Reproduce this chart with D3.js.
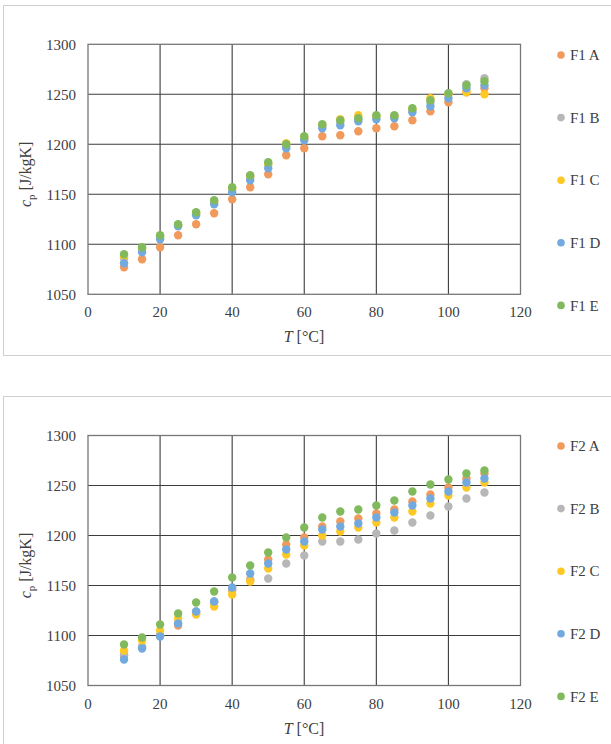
<!DOCTYPE html>
<html>
<head>
<meta charset="utf-8">
<script src="https://cdn.jsdelivr.net/npm/d3@7"></script>
<style>
  html, body { margin: 0; padding: 0; background: #fff; }
  svg { display: block; }
  text { font-family: "Liberation Serif", "Times New Roman", serif; fill: #404040; }
</style>
</head>
<body>
<script>
// Temperatures (°C) at which specific heat was measured
const temps = [10, 15, 20, 25, 30, 35, 40, 45, 50, 55, 60, 65, 70, 75, 80, 85, 90, 95, 100, 105, 110];

// Specific heat c_p [J/kgK], first group of samples
const f1A = [1077, 1085, 1097, 1109, 1120, 1131, 1145, 1157, 1170, 1189, 1196, 1208, 1209, 1213, 1216, 1218, 1224, 1233, 1242, 1252, 1256];
const f1B = [1086, 1095, 1107, 1119, 1131, 1142, 1155, 1167, 1180, 1198, 1206, 1218, 1222, 1225, 1227, 1228, 1234, 1242, 1250, 1260, 1266];
const f1C = [1088, 1096, 1108, 1119, 1131, 1143, 1156, 1168, 1180, 1201, 1207, 1219, 1225, 1229, 1228, 1228, 1235, 1246, 1250, 1252, 1250];
const f1D = [1081, 1092, 1105, 1118, 1129, 1140, 1152, 1164, 1176, 1196, 1204, 1216, 1219, 1223, 1225, 1226, 1232, 1238, 1246, 1256, 1259];
const f1E = [1090, 1097, 1109, 1120, 1132, 1144, 1157, 1169, 1182, 1200, 1208, 1220, 1224, 1226, 1229, 1229, 1236, 1244, 1251, 1259, 1263];

// Specific heat c_p [J/kgK], second group of samples
const f2A = [1080, 1088, 1100, 1110, 1122, 1133, 1145, 1156, 1176, 1191, 1198, 1209, 1214, 1217, 1222, 1226, 1234, 1241, 1248, 1257, 1262];
const f2B = [1081, 1089, 1100, 1112, 1124, 1134, 1146, 1155, 1157, 1172, 1180, 1194, 1194, 1196, 1202, 1205, 1213, 1220, 1229, 1237, 1243];
const f2C = [1085, 1095, 1105, 1117, 1121, 1129, 1141, 1154, 1167, 1181, 1190, 1200, 1204, 1208, 1213, 1218, 1224, 1232, 1240, 1248, 1253];
const f2D = [1076, 1087, 1099, 1112, 1124, 1134, 1148, 1162, 1172, 1186, 1194, 1206, 1209, 1212, 1218, 1223, 1230, 1237, 1244, 1253, 1257];
const f2E = [1091, 1098, 1111, 1122, 1133, 1144, 1158, 1170, 1183, 1198, 1208, 1218, 1224, 1226, 1230, 1235, 1244, 1251, 1256, 1262, 1265];

const seriesNames = ["A", "B", "C", "D", "E"];
const seriesColors = ["#F29A5C", "#B7B7B7", "#FFC824", "#72A9DE", "#80BA5C"];
const xTicks = [0, 20, 40, 60, 80, 100, 120];
const yTicks = [1050, 1100, 1150, 1200, 1250, 1300];

const W = 611, H = 744;
const svg = d3.select("body").append("svg").attr("width", W).attr("height", H);

function drawPanel(cfg) {
  const g = svg.append("g");

  // outer chart frame
  g.append("rect")
    .attr("x", 3.5).attr("y", cfg.frameTop + 0.5)
    .attr("width", 640).attr("height", cfg.frameH)
    .attr("fill", "none").attr("stroke", "#cfcfcf").attr("stroke-width", 1);

  const x = d3.scaleLinear().domain([0, 120]).range([88, 520.5]);
  const y = d3.scaleLinear().domain([1050, 1300]).range([cfg.plotTop + 250, cfg.plotTop]);

  // gridlines
  g.append("g").selectAll("line").data(xTicks.slice(1, -1)).join("line")
    .attr("x1", d => x(d)).attr("x2", d => x(d))
    .attr("y1", y(1050)).attr("y2", y(1300))
    .attr("stroke", "#3c3c3c").attr("stroke-width", 1.1);
  g.append("g").selectAll("line").data(yTicks.slice(1, -1)).join("line")
    .attr("x1", x(0)).attr("x2", x(120))
    .attr("y1", d => y(d)).attr("y2", d => y(d))
    .attr("stroke", "#3c3c3c").attr("stroke-width", 1.1);
  g.append("rect")
    .attr("x", x(0)).attr("y", y(1300))
    .attr("width", x(120) - x(0)).attr("height", y(1050) - y(1300))
    .attr("fill", "none").attr("stroke", "#777").attr("stroke-width", 1.3);

  // tick labels
  g.append("g").selectAll("text").data(yTicks).join("text")
    .attr("x", 76).attr("y", d => y(d)).attr("dy", "0.35em")
    .attr("text-anchor", "end").attr("font-size", 15)
    .text(d => d);
  g.append("g").selectAll("text").data(xTicks).join("text")
    .attr("x", d => x(d)).attr("y", y(1050) + 23)
    .attr("text-anchor", "middle").attr("font-size", 15)
    .text(d => d);

  // axis titles
  const xt = g.append("text")
    .attr("x", 304).attr("y", y(1050) + 48)
    .attr("text-anchor", "middle").attr("font-size", 16);
  xt.append("tspan").attr("font-style", "italic").text("T");
  xt.append("tspan").text(" [°C]");

  const yt = g.append("text")
    .attr("transform", `translate(31,${cfg.plotTop + 130}) rotate(-90)`)
    .attr("text-anchor", "middle").attr("font-size", 16);
  yt.append("tspan").attr("font-style", "italic").text("c");
  yt.append("tspan").attr("font-size", 11).attr("dy", 4).text("p");
  yt.append("tspan").attr("dy", -4).text(" [J/kgK]");

  // scatter points, series drawn A→E so E sits on top
  cfg.series.forEach((vals, i) => {
    g.append("g").selectAll("circle").data(vals).join("circle")
      .attr("cx", (d, j) => x(temps[j]))
      .attr("cy", d => y(d))
      .attr("r", 4.2)
      .attr("fill", seriesColors[i]);
  });

  // legend
  const lg = g.append("g").selectAll("g").data(seriesNames).join("g")
    .attr("transform", (d, i) => `translate(561,${cfg.legendTop + i * 62.6})`);
  lg.append("circle").attr("r", 3.8).attr("fill", (d, i) => seriesColors[i]);
  lg.append("text").attr("x", 9).attr("dy", "0.35em").attr("font-size", 15)
    .text(d => `${cfg.prefix} ${d}`);
}

drawPanel({ prefix: "F1", frameTop: 5, frameH: 350, plotTop: 44.3, legendTop: 55,
            series: [f1A, f1B, f1C, f1D, f1E] });
drawPanel({ prefix: "F2", frameTop: 396, frameH: 400, plotTop: 435.5, legendTop: 446,
            series: [f2A, f2B, f2C, f2D, f2E] });
</script>
</body>
</html>
